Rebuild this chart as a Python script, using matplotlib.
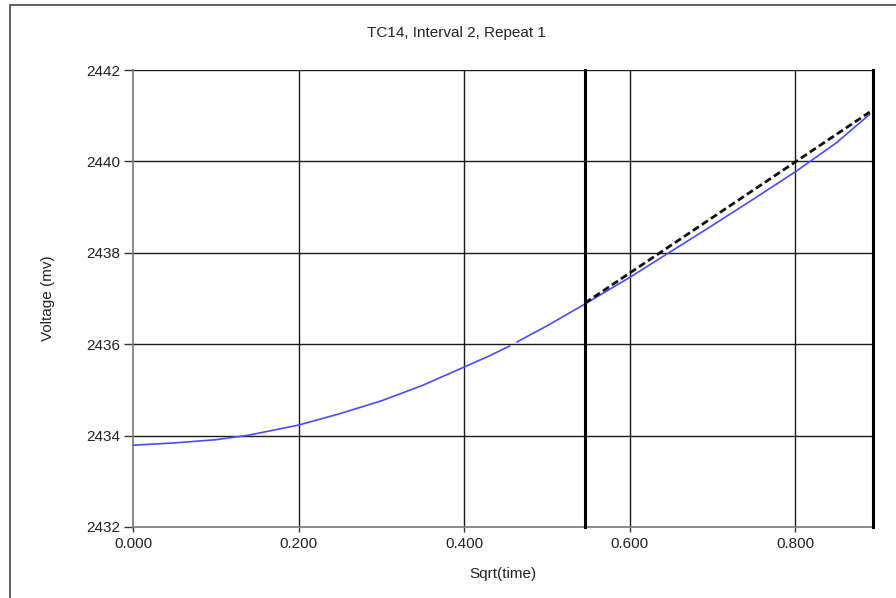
import matplotlib
matplotlib.use('Agg')
import matplotlib.pyplot as plt
from matplotlib.patches import Rectangle

plt.rcParams['font.family'] = ['Liberation Sans', 'DejaVu Sans']

# measured curve, voltage vs sqrt(time); a short gap in the logging near 0.46
sqrt_t_a = [0.000, 0.050, 0.100, 0.140, 0.200, 0.250, 0.300, 0.350, 0.400, 0.430, 0.455]
volt_a = [2433.79, 2433.84, 2433.91, 2434.01, 2434.23, 2434.48, 2434.76, 2435.10, 2435.50, 2435.74, 2435.96]
sqrt_t_b = [0.464, 0.500, 0.546, 0.600, 0.650, 0.700, 0.750, 0.800, 0.850, 0.890]
volt_b = [2436.05, 2436.40, 2436.88, 2437.46, 2438.03, 2438.60, 2439.18, 2439.77, 2440.41, 2441.03]

# linear fit over the second region
fit_x = [0.546, 0.890]
fit_y = [2436.90, 2441.08]

# fit window bounds
window = [0.546, 0.894]

x_ticks = [0.0, 0.2, 0.4, 0.6, 0.8]
y_ticks = [2432, 2434, 2436, 2438, 2440, 2442]

fig = plt.figure(figsize=(8.96, 5.98), dpi=100)
ax = fig.add_axes([133 / 896, 1 - 527 / 598, (873 - 133) / 896, (527 - 70) / 598])

# outer frame of the chart control
fig.patches.append(Rectangle((10 / 896, -0.1), 1.2, 1.1 - 5 / 598, transform=fig.transFigure,
                             fill=False, edgecolor='#444444', linewidth=1.2))

ax.set_xlim(0, window[1])
ax.set_ylim(2432, 2442)
ax.set_xticks(x_ticks)
ax.set_yticks(y_ticks)
ax.set_xticklabels([f'{v:.3f}' for v in x_ticks])
ax.set_yticklabels([str(v) for v in y_ticks])

for v in x_ticks[1:]:
    ax.axvline(v, color='#1a1a1a', linewidth=1.0, zorder=1)
for v in y_ticks[1:]:
    ax.axhline(v, color='#1a1a1a', linewidth=1.0, zorder=1)

for s in ['top', 'right']:
    ax.spines[s].set_visible(False)
for s in ['left', 'bottom']:
    ax.spines[s].set_color('#777777')
    ax.spines[s].set_linewidth(1.2)

ax.tick_params(axis='y', length=6.5, width=1.0, color='#333333', labelsize=11, labelcolor='#222222', pad=3)
ax.tick_params(axis='x', length=3.5, width=1.0, color='#333333', labelsize=11, labelcolor='#222222', pad=4)

ax.plot(sqrt_t_a, volt_a, color='#4a4aff', linewidth=1.2, zorder=3)
ax.plot(sqrt_t_b, volt_b, color='#4a4aff', linewidth=1.2, zorder=3)
ax.plot(fit_x, fit_y, color='#111111', linewidth=2.0, dashes=(2.6, 1.3), zorder=4)

for v in window:
    ax.axvline(v, color='#000000', linewidth=2.2, zorder=5, clip_on=False)

fig.text(456 / 896, 1 - 33 / 598, 'TC14, Interval 2, Repeat 1', ha='center', va='center',
         fontsize=11, color='#222222')
ax.set_xlabel('Sqrt(time)', fontsize=11, color='#222222', labelpad=11)
ax.set_ylabel('Voltage (mv)', fontsize=11, color='#222222', labelpad=22)

fig.savefig('out.png', dpi=100)
